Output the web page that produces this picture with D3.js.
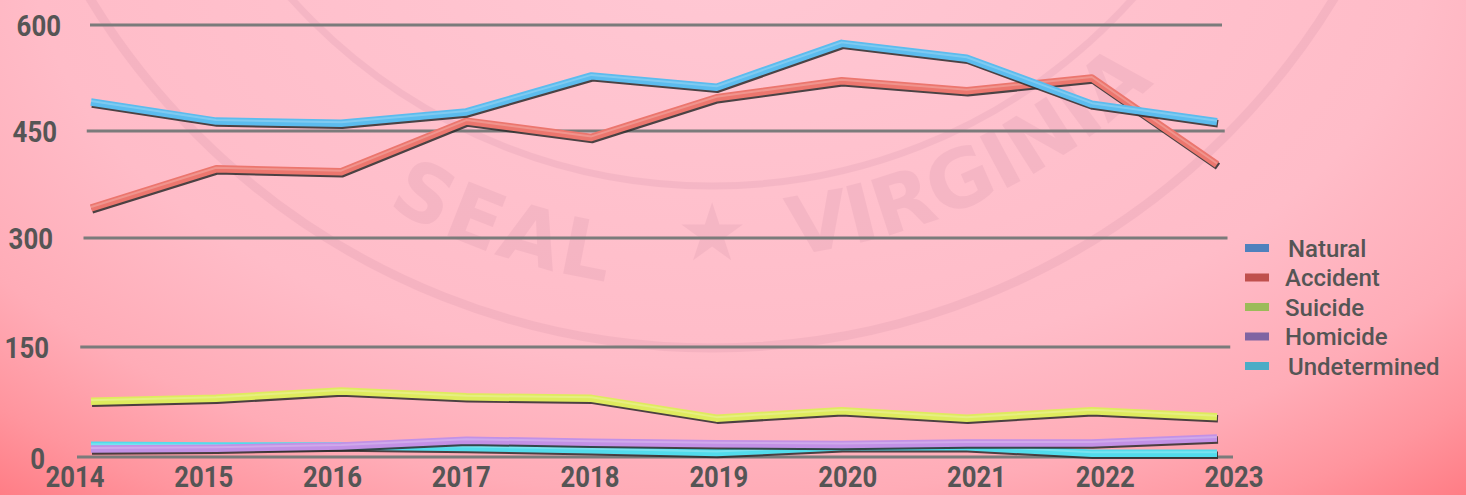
<!DOCTYPE html>
<html>
<head>
<meta charset="utf-8">
<script src="https://cdn.jsdelivr.net/npm/d3@7"></script>
<style>
  html, body { margin: 0; padding: 0; background: #ffc0cb; }
  svg { display: block; }
  .tick-label { font-family: Roboto, "Liberation Sans", sans-serif; font-weight: bold; font-size: 30px; fill: #555; }
  .legend-label { font-family: Roboto, "Liberation Sans", sans-serif; font-weight: 500; font-size: 24px; fill: #555; }
</style>
</head>
<body>
<svg width="1466" height="495"></svg>
<script>
var years = [2014, 2015, 2016, 2017, 2018, 2019, 2020, 2021, 2022, 2023];
var yTicks = [0, 150, 300, 450, 600];

var natural      = [491, 464, 461, 477, 528, 512, 574, 553, 488, 463];
var accident     = [342, 397, 393, 464, 441, 497, 521, 507, 525, 403];
var suicide      = [76, 80, 90, 82, 80, 53, 63, 53, 63, 55];
var homicide     = [11, 12, 15, 23, 20, 18, 17, 19, 19, 26];
var undetermined = [16, 15, 15, 13, 10, 6, 14, 14, 5, 5];

var seriesNames  = ["Natural", "Accident", "Suicide", "Homicide", "Undetermined"];
var seriesValues = [natural, accident, suicide, homicide, undetermined];
var lineColors   = ["#5cbcee", "#ec766e", "#dfeb5e", "#c291e6", "#52dcec"];
var keyColors    = ["#4f81bd", "#c0504d", "#9bbb59", "#8064a2", "#4bacc6"];

var svg = d3.select("svg"),
    width = +svg.attr("width"),
    height = +svg.attr("height");

// background: pink from the top, red lower corners
var defs = svg.append("defs");
var grad = defs.append("radialGradient")
    .attr("id", "bg")
    .attr("gradientUnits", "userSpaceOnUse")
    .attr("cx", 0).attr("cy", 0).attr("r", 1)
    .attr("gradientTransform", "translate(730,-50) scale(1200,720)");
grad.append("stop").attr("offset", "0%").attr("stop-color", "#ffc8d4");
grad.append("stop").attr("offset", "58%").attr("stop-color", "#ffbcc8");
grad.append("stop").attr("offset", "76%").attr("stop-color", "#ffacb7");
grad.append("stop").attr("offset", "88%").attr("stop-color", "#ff959e");
grad.append("stop").attr("offset", "100%").attr("stop-color", "#ff767e");

svg.append("rect")
    .attr("width", width).attr("height", height)
    .attr("fill", "url(#bg)");

// faint seal watermark
var mark = svg.append("g").attr("opacity", 0.06);
mark.append("circle")
    .attr("cx", 712).attr("cy", -380).attr("r", 728)
    .attr("fill", "none").attr("stroke", "#6a2050").attr("stroke-width", 9);
mark.append("circle")
    .attr("cx", 712).attr("cy", -380).attr("r", 566)
    .attr("fill", "none").attr("stroke", "#6a2050").attr("stroke-width", 7);
defs.append("path")
    .attr("id", "sealArc")
    .attr("d", "M " + (712 - 640) + " -380 A 640 640 0 0 0 " + (712 + 640) + " -380");
var sealText = mark.append("text")
    .attr("font-family", "DejaVu Sans, sans-serif")
    .attr("font-weight", "bold")
    .attr("font-size", 80)
    .attr("fill", "#6a2050")
    .attr("dy", 30);
sealText.append("textPath").attr("href", "#sealArc")
    .attr("startOffset", "45%").attr("text-anchor", "end").text("SEAL");
sealText.append("textPath").attr("href", "#sealArc")
    .attr("startOffset", "50%").attr("text-anchor", "middle").text("★");
sealText.append("textPath").attr("href", "#sealArc")
    .attr("startOffset", "54%").attr("text-anchor", "start").text("VIRGINIA");

// scales (grid is slightly uneven, so use the tick positions as stops)
var y = d3.scaleLinear().domain(yTicks).range([457, 347, 238, 131, 25]);
var xLabel = d3.scalePoint().domain(years).range([75, 1234]);
var xLine = d3.scalePoint().domain(years).range([91, 1217]);
var gridLeft = d3.scaleLinear().domain([0, 600]).range([77, 90]);
var gridRight = d3.scaleLinear().domain([0, 600]).range([1233, 1222]);
var labelRight = d3.scaleLinear().domain([0, 600]).range([45, 61]);

// gridlines
svg.append("g")
    .selectAll("line")
    .data(yTicks)
    .enter().append("line")
        .attr("x1", function(d) { return gridLeft(d); })
        .attr("x2", function(d) { return gridRight(d); })
        .attr("y1", function(d) { return y(d); })
        .attr("y2", function(d) { return y(d); })
        .attr("stroke", "#7b7b7b")
        .attr("stroke-width", 3);

// Y axis labels (narrow digits, squeezed to the width seen)
svg.append("g")
    .selectAll("text")
    .data(yTicks)
    .enter().append("text")
        .attr("class", "tick-label")
        .attr("x", function(d) { return labelRight(d) - String(d).length * 14.8; })
        .attr("y", function(d) { return y(d) + (d === 0 ? 1 : 0); })
        .attr("dy", "0.36em")
        .attr("textLength", function(d) { return String(d).length * 14.8; })
        .attr("lengthAdjust", "spacingAndGlyphs")
        .text(function(d) { return d; });

// X axis labels
svg.append("g")
    .selectAll("text")
    .data(years)
    .enter().append("text")
        .attr("class", "tick-label")
        .attr("x", function(d) { return xLabel(d) - 29.5; })
        .attr("y", 487)
        .attr("textLength", 59)
        .attr("lengthAdjust", "spacingAndGlyphs")
        .text(function(d) { return d; });

// lines, drawn back to front
var line = d3.line()
    .x(function(d, i) { return xLine(years[i]); })
    .y(function(d) { return y(d); });

var order = [4, 3, 2, 1, 0];
var lines = svg.append("g").attr("fill", "none").attr("stroke-linejoin", "round");

order.forEach(function(k) {
    var g = lines.append("g");
    g.append("path")
        .attr("d", line(seriesValues[k]))
        .attr("transform", "translate(1,2)")
        .attr("stroke", "#2b2b2b")
        .attr("stroke-opacity", 0.85)
        .attr("stroke-width", 7.5);
    g.append("path")
        .attr("d", line(seriesValues[k]))
        .attr("stroke", lineColors[k])
        .attr("stroke-width", 7.5);
    g.append("path")
        .attr("d", line(seriesValues[k]))
        .attr("transform", "translate(0,-1)")
        .attr("stroke", "#ffffff")
        .attr("stroke-opacity", 0.22)
        .attr("stroke-width", 2);
});

// legend
var ly = d3.scalePoint().domain(seriesNames).range([248, 366]);
var legend = svg.append("g")
    .selectAll("g")
    .data(seriesNames)
    .enter().append("g")
        .attr("transform", function(d) { return "translate(0," + ly(d) + ")"; });

legend.append("rect")
    .attr("x", 1245).attr("y", -4)
    .attr("width", 24).attr("height", 8)
    .attr("fill", function(d, i) { return keyColors[i]; });

legend.append("text")
    .attr("class", "legend-label")
    .attr("x", function(d) { return (d === "Natural" || d === "Undetermined") ? 1288 : 1285; })
    .attr("dy", "0.36em")
    .text(function(d) { return d; });
</script>
</body>
</html>
